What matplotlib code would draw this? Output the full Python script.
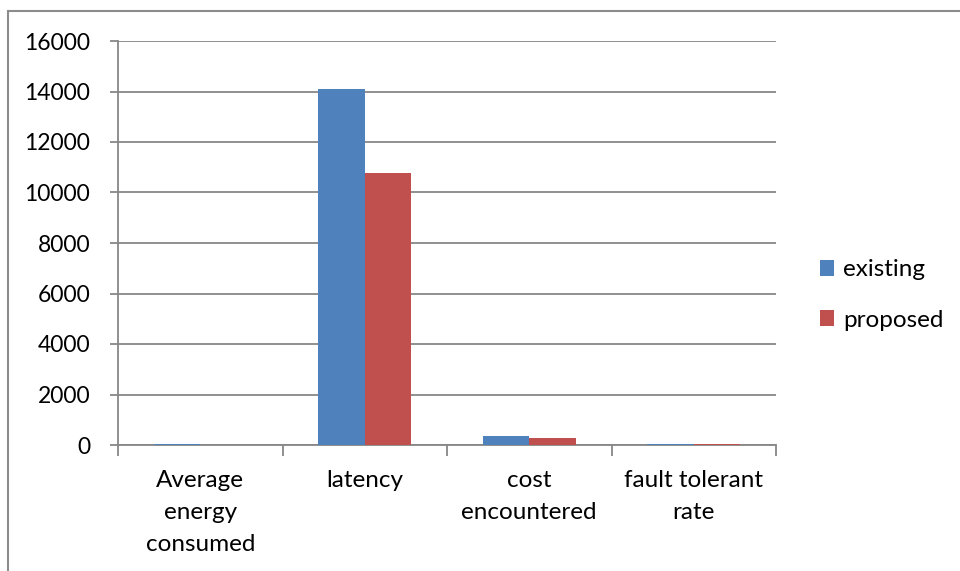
import numpy as np
import matplotlib.pyplot as plt
from matplotlib.patches import Rectangle

categories = ['Average\nenergy\nconsumed', 'latency', 'cost\nencountered', 'fault tolerant\nrate']
existing = [25, 14100, 340, 45]
proposed = [10, 10770, 270, 45]
yticks = [0, 2000, 4000, 6000, 8000, 10000, 12000, 14000, 16000]

plt.rcParams['font.family'] = ['Lato', 'DejaVu Sans']
grid_col = '#878787'
fs = 17.5

fig = plt.figure(figsize=(9.6, 5.71), dpi=100)
# chart frame
fig.patches.append(Rectangle((8 / 960, -0.1), 1.2, 1 - 11 / 571 + 0.1,
                             transform=fig.transFigure, fill=False,
                             edgecolor='#8c8c8c', linewidth=1.5))

ax = fig.add_axes([118 / 960, 1 - 445 / 571, (776 - 118) / 960, (445 - 41) / 571])

x = np.arange(len(categories))
w = 0.283
ax.bar(x - w / 2, existing, w, color='#4f81bd', label='existing', zorder=3)
ax.bar(x + w / 2, proposed, w, color='#c0504d', label='proposed', zorder=3)

ax.set_xlim(-0.5, len(categories) - 0.5)
ax.set_ylim(0, 16000)
ax.set_yticks(yticks)
ax.set_yticklabels([str(t) for t in yticks], fontsize=16.5)
ax.yaxis.grid(True, color=grid_col, linewidth=1.3, zorder=0)
ax.set_axisbelow(True)

# category labels between boundary ticks
ax.set_xticks(np.arange(len(categories) + 1) - 0.5)
ax.set_xticklabels([])
ax.set_xticks(x, minor=True)
ax.set_xticklabels(categories, minor=True, fontsize=fs, linespacing=1.66)
ax.tick_params(axis='x', which='minor', length=0, pad=18)
ax.tick_params(axis='x', which='major', length=8, width=1.3, color=grid_col, direction='out')
ax.tick_params(axis='y', length=6, width=1.3, color=grid_col, pad=14)

for s in ['top', 'right']:
    ax.spines[s].set_visible(False)
for s in ['left', 'bottom']:
    ax.spines[s].set_color(grid_col)
    ax.spines[s].set_linewidth(1.3)

fig.legend(loc='center left', bbox_to_anchor=(798 / 960, 1 - 295 / 571), frameon=False,
           fontsize=fs, handlelength=0.6, handleheight=0.6, handletextpad=0.35,
           labelspacing=1.2)

fig.savefig('out.png', dpi=100)
